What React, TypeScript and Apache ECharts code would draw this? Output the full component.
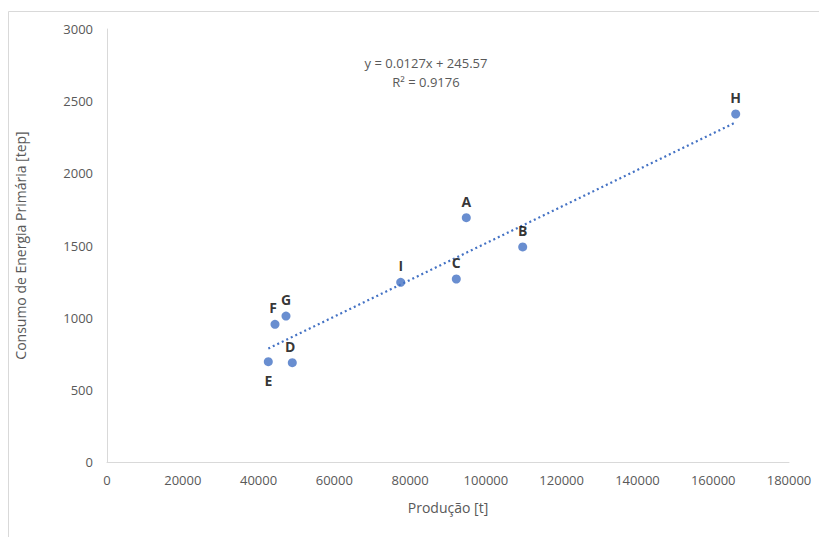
import React, { useEffect, useRef } from "react";
import * as echarts from "echarts";

const labels = ["A", "B", "C", "D", "E", "F", "G", "H", "I"];
const producao = [94830, 109716, 92191, 48906, 42572, 44340, 47243, 165933, 77516];
const consumo = [1693, 1490, 1268, 688, 695, 954, 1011, 2411, 1245];
const slope = 0.0127;
const intercept = 245.57;
const xTicks = [0, 20000, 40000, 60000, 80000, 100000, 120000, 140000, 160000, 180000];
const yTicks = [0, 500, 1000, 1500, 2000, 2500, 3000];

const FONT = "'Open Sans', 'Noto Sans', sans-serif";
const GRAY = "#595959";

export default function App() {
  const ref = useRef<HTMLDivElement>(null);
  useEffect(() => {
    if (!ref.current) return;
    const chart = echarts.init(ref.current, null, { renderer: "svg" });
    const xMin = Math.min(...producao);
    const xMax = Math.max(...producao);
    const trend = [
      [xMin, slope * xMin + intercept],
      [xMax, slope * xMax + intercept],
    ];
    const points = producao.map((x, i) => ({
      value: [x, consumo[i]],
      name: labels[i],
      label: {
        position: labels[i] === "E" ? "bottom" : "top",
        distance: labels[i] === "E" ? 7 : 5,
        offset: labels[i] === "F" ? [-2, 0] : labels[i] === "D" ? [-2, 0] : [0, 0],
      },
    }));
    chart.setOption({
      animation: false,
      textStyle: { fontFamily: FONT },
      graphic: [
        {
          type: "rect",
          shape: { x: 8.5, y: 11.5, width: 830, height: 560 },
          style: { fill: "none", stroke: "#d9d9d9", lineWidth: 1 },
          silent: true,
        },
        {
          type: "text",
          x: 426,
          y: 63,
          style: {
            text: "y = 0.0127x + 245.57",
            fill: GRAY,
            font: `13px ${FONT}`,
            align: "center",
            verticalAlign: "middle",
          },
        },
        {
          type: "text",
          x: 426,
          y: 82,
          style: {
            text: "R² = 0.9176",
            fill: GRAY,
            font: `13px ${FONT}`,
            align: "center",
            verticalAlign: "middle",
          },
        },
      ],
      grid: { left: 107, right: 30, top: 29, bottom: 75, containLabel: false },
      xAxis: {
        type: "value",
        min: xTicks[0],
        max: xTicks[xTicks.length - 1],
        interval: 20000,
        name: "Produção [t]",
        nameLocation: "middle",
        nameGap: 38,
        nameTextStyle: { color: GRAY, fontSize: 14, fontFamily: FONT },
        axisLine: { show: true, lineStyle: { color: "#d9d9d9", width: 1 } },
        axisTick: { show: false },
        splitLine: { show: false },
        axisLabel: { color: GRAY, fontSize: 13, margin: 11, fontFamily: FONT, formatter: (v: number) => String(v) },
      },
      yAxis: {
        type: "value",
        min: yTicks[0],
        max: yTicks[yTicks.length - 1],
        interval: 500,
        name: "Consumo de Energia Primária [tep]",
        nameLocation: "middle",
        nameGap: 80,
        nameTextStyle: { color: GRAY, fontSize: 14, fontFamily: FONT },
        axisLine: { show: true, lineStyle: { color: "#d9d9d9", width: 1 } },
        axisTick: { show: false },
        splitLine: { show: false },
        axisLabel: { color: GRAY, fontSize: 13, margin: 14, fontFamily: FONT, formatter: (v: number) => String(v) },
      },
      series: [
        {
          type: "line",
          data: trend,
          showSymbol: false,
          symbol: "none",
          lineStyle: { color: "#4472C4", width: 2.2, type: [2, 3], cap: "butt" },
          silent: true,
          z: 1,
        },
        {
          type: "scatter",
          data: points,
          symbolSize: 9,
          itemStyle: { color: "#4472C4" },
          label: {
            show: true,
            formatter: "{b}",
            color: "#000",
            fontWeight: "bold",
            fontSize: 14,
            fontFamily: FONT,
          },
          z: 2,
        },
      ],
    });
    return () => chart.dispose();
  }, []);
  return (
    <div
      ref={ref}
      style={{ position: "absolute", left: 0, top: 0, width: 819, height: 537, background: "#fff" }}
    />
  );
}
